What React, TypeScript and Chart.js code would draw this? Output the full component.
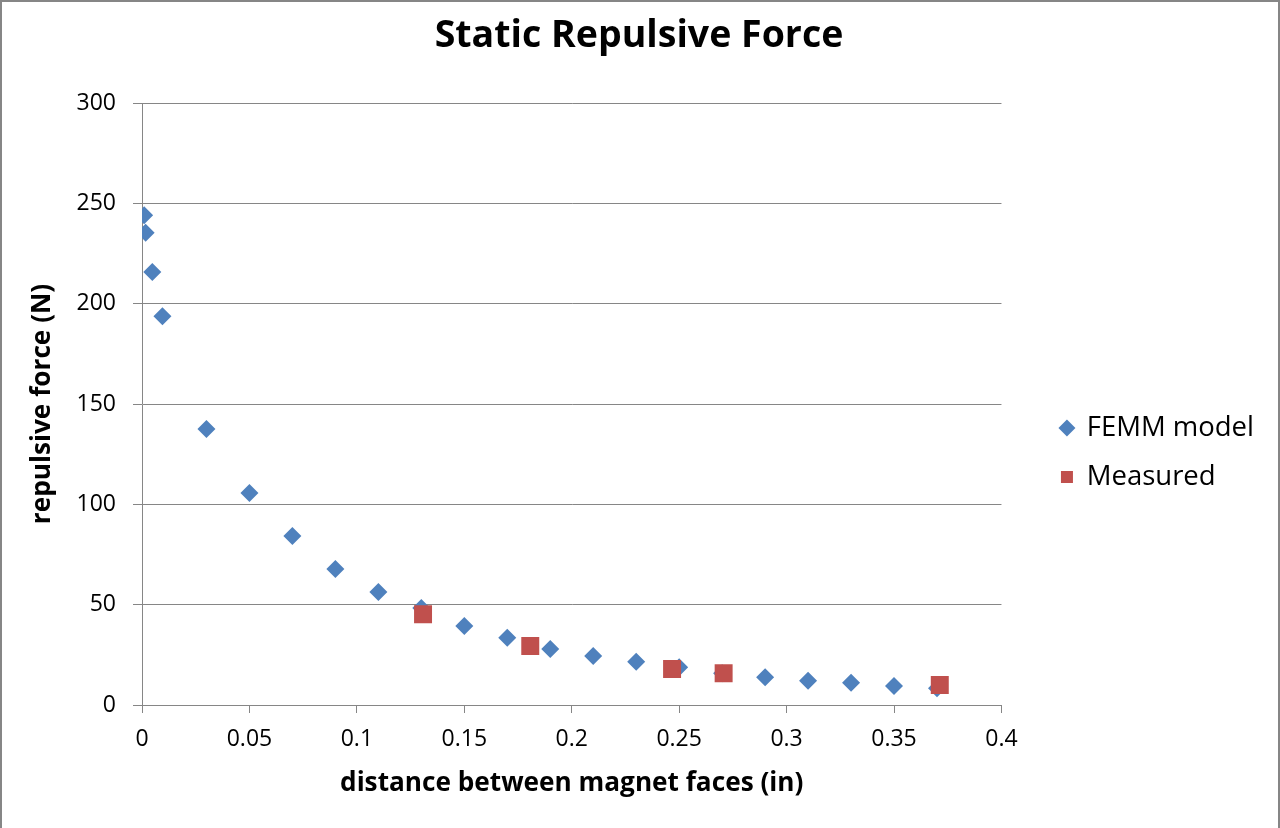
import { useEffect, useRef } from "react";
import { Chart, registerables } from "chart.js";

Chart.register(...registerables);

const femmX = [0.001, 0.0017, 0.0048, 0.0095, 0.03, 0.05, 0.07, 0.09, 0.11, 0.13, 0.15, 0.17, 0.19, 0.21, 0.23, 0.25, 0.27, 0.29, 0.31, 0.33, 0.35, 0.37];
const femmY = [244, 235.4, 215.8, 193.7, 137.5, 105.6, 84.2, 67.8, 56.3, 48.3, 39.4, 33.5, 27.9, 24.4, 21.6, 18.8, 15.8, 13.8, 12.1, 11.1, 9.5, 8.3];
const measuredX = [0.1308, 0.1807, 0.2467, 0.2707, 0.3713];
const measuredY = [45.2, 29.4, 17.9, 15.8, 10];
const xTickValues = [0, 0.05, 0.1, 0.15, 0.2, 0.25, 0.3, 0.35, 0.4];
const xTickLabels = ["0", "0.05", "0.1", "0.15", "0.2", "0.25", "0.3", "0.35", "0.4"];
const yTickLabels = ["0", "50", "100", "150", "200", "250", "300"];

const FONT = "'Open Sans', 'Noto Sans', sans-serif";
const GRID = "#868686";

export default function App() {
  const ref = useRef<HTMLCanvasElement>(null);
  useEffect(() => {
    document.body.style.margin = "0";
    const ctx = ref.current!;
    const chart = new Chart(ctx, {
      type: "scatter",
      data: {
        datasets: [
          {
            label: "FEMM model",
            data: femmX.map((x, i) => ({ x, y: femmY[i] })),
            pointStyle: "rectRot",
            pointRadius: 9,
            pointHoverRadius: 9,
            backgroundColor: "#4F81BD",
            borderColor: "#4F81BD",
            pointBorderWidth: 0,
            borderWidth: 0,
            order: 1,
          },
          {
            label: "Measured",
            data: measuredX.map((x, i) => ({ x, y: measuredY[i] })),
            pointStyle: "rect",
            pointRadius: 12.7,
            pointHoverRadius: 12.7,
            backgroundColor: "#C0504D",
            borderColor: "#C0504D",
            pointBorderWidth: 0,
            borderWidth: 0,
            order: 0,
          },
        ],
      },
      options: {
        animation: false,
        responsive: false,
        maintainAspectRatio: false,
        layout: { padding: { left: 14, right: 16, top: 0, bottom: 0 } },
        plugins: {
          tooltip: { enabled: false },
          title: {
            display: true,
            text: "Static Repulsive Force",
            color: "#000",
            font: { family: FONT, size: 37.5, weight: "bold" },
            padding: { top: 14, bottom: 44 },
          },
          legend: {
            display: true,
            position: "right",
            title: {
              display: true,
              text: " ",
              font: { family: FONT, size: 10 },
              padding: { top: 32.5, bottom: 32.5 },
            },
            labels: {
              usePointStyle: true,
              boxHeight: 12,
              boxWidth: 12,
              padding: 21.5,
              color: "#000",
              font: { family: FONT, size: 27.5 },
              sort: (a: any, b: any) => a.datasetIndex - b.datasetIndex,
            },
          },
        },
        scales: {
          x: {
            type: "linear",
            min: 0,
            max: 0.4,
            afterBuildTicks: (s: any) => {
              s.ticks = xTickValues.map((v) => ({ value: v }));
            },
            afterFit: (s: any) => {
              s.height = 123;
            },
            ticks: {
              color: "#000",
              font: { family: FONT, size: 23 },
              padding: 13,
              maxRotation: 0,
              autoSkip: false,
              callback: (v: any) => {
                const i = xTickValues.findIndex((t) => Math.abs(t - Number(v)) < 1e-9);
                return i >= 0 ? xTickLabels[i] : "";
              },
            },
            grid: { drawOnChartArea: false, drawTicks: true, tickLength: 8, color: GRID, lineWidth: 1 },
            border: { display: true, color: GRID, width: 1 },
            title: {
              display: true,
              text: "distance between magnet faces (in)",
              color: "#000",
              font: { family: FONT, size: 26.2, weight: "bold" },
              padding: { top: 0, bottom: 29 },
            },
          },
          y: {
            type: "linear",
            min: 0,
            max: 300,
            afterBuildTicks: (s: any) => {
              s.ticks = yTickLabels.map((l) => ({ value: Number(l) }));
            },
            afterFit: (s: any) => {
              s.width = 128;
            },
            ticks: {
              color: "#000",
              font: { family: FONT, size: 23 },
              padding: 17,
              autoSkip: false,
              callback: (v: any) => {
                const i = yTickLabels.indexOf(String(v));
                return i >= 0 ? yTickLabels[i] : "";
              },
            },
            grid: { drawOnChartArea: true, drawTicks: true, tickLength: 9, color: GRID, lineWidth: 1 },
            border: { display: true, color: GRID, width: 1 },
            title: {
              display: true,
              text: "repulsive force (N)",
              color: "#000",
              font: { family: FONT, size: 26.2, weight: "bold" },
              padding: { top: 13, bottom: 0 },
            },
          },
          spacer: {
            type: "linear",
            position: "right",
            display: false,
            afterFit: (s: any) => {
              s.width = 38;
            },
          },
        },
      },
    });
    return () => chart.destroy();
  }, []);
  return (
    <div style={{ position: "relative", width: 1280, height: 828, background: "#fff" }}>
      <canvas ref={ref} width={1280} height={828} style={{ position: "absolute", left: 0, top: 0, width: 1280, height: 828 }} />
      <div
        style={{
          position: "absolute",
          left: 0,
          top: 0,
          width: 1280,
          height: 828,
          boxSizing: "border-box",
          borderTop: "2px solid #868686",
          borderLeft: "2px solid #868686",
          borderRight: "2px solid #868686",
          pointerEvents: "none",
        }}
      />
    </div>
  );
}
